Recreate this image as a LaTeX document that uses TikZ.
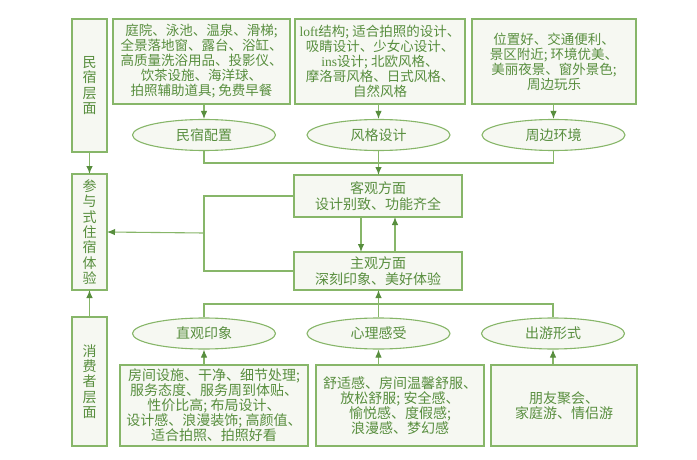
\documentclass[tikz,border=0pt]{standalone}
\usepackage{fontspec}
\setmainfont{Noto Sans CJK SC}
\newfontfamily\latinfont{Liberation Serif}
\usepackage{tikz}
\usetikzlibrary{arrows.meta,shapes.geometric}
\definecolor{linegreen}{RGB}{135,182,105}
\definecolor{textgreen}{RGB}{88,142,62}
\definecolor{boxfill}{RGB}{246,248,242}

\begin{document}
\begin{tikzpicture}[x=1pt,y=-1pt,
	box/.style={draw=linegreen,fill=boxfill,line width=1.2pt,shape=rectangle,inner sep=0pt,outer sep=0pt,align=center,text=textgreen,font=\fontsize{14}{15}\selectfont},
	topbox/.style={box,minimum height=85pt,font=\fontsize{13.5}{15}\selectfont},
	sidebox/.style={box,minimum width=35pt,font=\fontsize{14}{15.3}\selectfont},
	oval/.style={draw=linegreen,fill=boxfill,line width=1.1pt,shape=ellipse,minimum width=143pt,minimum height=31pt,inner sep=0pt,text=textgreen,font=\fontsize{14}{15}\selectfont},
	link/.style={draw=linegreen,line width=1.1pt},
	arr/.style={link,-{Latex[length=8pt,width=6.5pt,color=textgreen]}}]
\useasboundingbox (0,0) rectangle (697,460);
% left column
\node[sidebox,minimum height=133pt] (mlayer) at (89.5,85.5) {民\\宿\\层\\面};
\node[sidebox,minimum height=116pt] (stay) at (89.5,232) {参\\与\\式\\住\\宿\\体\\验};
\node[sidebox,minimum height=129pt] (clayer) at (89.5,381.5) {消\\费\\者\\层\\面};
% homestay level
\node[topbox,minimum width=177pt] (facil) at (201.5,61.5) {庭院、泳池、温泉、滑梯;\\全景落地窗、露台、浴缸、\\高质量洗浴用品、投影仪、\\饮茶设施、海洋球、\\拍照辅助道具; 免费早餐};
\node[topbox,minimum width=170pt] (style) at (380,61.5) {{\latinfont loft}结构; 适合拍照的设计、\\吸睛设计、少女心设计、\\{\latinfont ins}设计; 北欧风格、\\摩洛哥风格、日式风格、\\自然风格};
\node[topbox,minimum width=164pt] (env) at (554,61.5) {位置好、交通便利、\\景区附近; 环境优美、\\美丽夜景、窗外景色;\\周边玩乐};
\node[oval] (cfg) at (204,135) {民宿配置};
\node[oval] (design) at (378.5,135) {风格设计};
\node[oval] (around) at (553.5,135) {周边环境};
% experience
\node[box,minimum width=168pt,minimum height=42pt,font=\fontsize{14}{16}\selectfont] (obj) at (378,196) {客观方面\\设计别致、功能齐全};
\node[box,minimum width=168pt,minimum height=38pt,font=\fontsize{14}{16}\selectfont] (subj) at (378,271) {主观方面\\深刻印象、美好体验};
% consumer level
\node[oval] (intu) at (204,333.5) {直观印象};
\node[oval] (psy) at (378.5,333.5) {心理感受};
\node[oval] (trip) at (553,333.5) {出游形式};
\node[box,minimum width=188pt,minimum height=81pt] (room) at (214,405.5) {房间设施、干净、细节处理;\\服务态度、服务周到体贴、\\性价比高; 布局设计、\\设计感、浪漫装饰; 高颜值、\\适合拍照、拍照好看};
\node[box,minimum width=168pt,minimum height=81pt] (feel) at (400,405.5) {舒适感、房间温馨舒服、\\放松舒服; 安全感、\\愉悦感、度假感;\\浪漫感、梦幻感};
\node[box,minimum width=146pt,minimum height=81pt] (form) at (564,405.5) {朋友聚会、\\家庭游、情侣游};
% top branch
\draw[arr] (cfg.north |- facil.south) -- (cfg.north);
\draw[arr] (design.north |- style.south) -- (design.north);
\draw[arr] (around.north |- env.south) -- (around.north);
\coordinate (topbar) at (0,163);
\draw[link] (cfg.south) -- (cfg.south |- topbar) -- (around.south |- topbar) -- (around.south);
\draw[arr] (design.south) -- (design.south |- obj.north);
% bottom branch
\draw[arr] (intu.south |- room.north) -- (intu.south);
\draw[arr] (psy.south |- feel.north) -- (psy.south);
\draw[arr] (trip.south |- form.north) -- (trip.south);
\coordinate (botbar) at (0,304);
\draw[link] (intu.north) -- (intu.north |- botbar) -- (trip.north |- botbar) -- (trip.north);
\draw[arr] (psy.north) -- (psy.north |- subj.south);
% middle
\draw[arr] ([xshift=-17pt]obj.south) -- ([xshift=-17pt]subj.north);
\draw[arr] ([xshift=17pt]subj.north) -- ([xshift=17pt]obj.south);
\coordinate (bend) at (204,233);
\draw[link] (obj.west) -- (obj.west -| bend) -- (subj.west -| bend) -- (subj.west);
\draw[arr] (bend) -- (stay.east);
\draw[arr] (mlayer.south) -- (stay.north);
\draw[arr] (clayer.north) -- (stay.south);
\end{tikzpicture}
\end{document}
